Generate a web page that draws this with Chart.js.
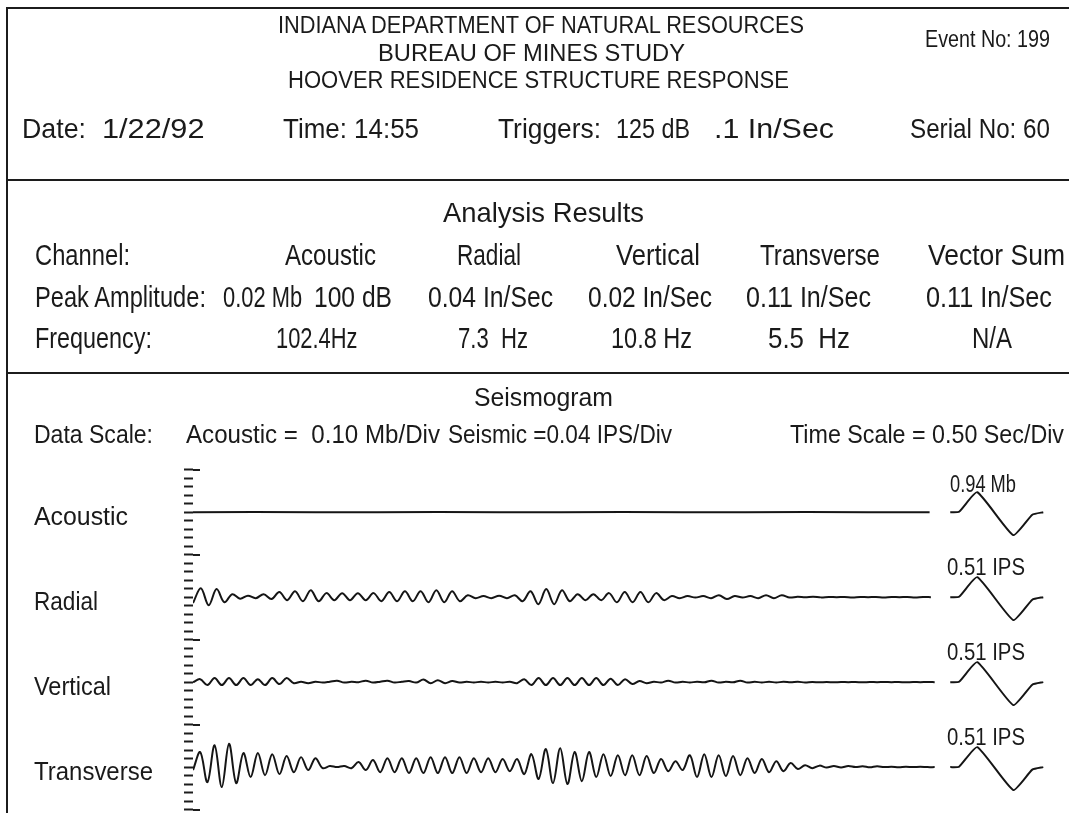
<!DOCTYPE html>
<html>
<head>
<meta charset="utf-8">
<script src="https://cdn.jsdelivr.net/npm/chart.js@4.4.0/dist/chart.umd.min.js"></script>
<style>
  html, body { margin: 0; padding: 0; background: #fff; }
  #page { position: relative; width: 1069px; height: 813px; overflow: hidden; background: #fff; }
  #seis { position: absolute; left: 0; top: 0; }
  .t { position: absolute; white-space: pre; font-family: "Liberation Sans", Arial, sans-serif;
       color: #1a1a1a; line-height: 1; transform-origin: 0 0; }
  .rule { position: absolute; background: #1c1c1c; }
</style>
</head>
<body>
<div id="page">
  <canvas id="seis" width="1069" height="813"></canvas>
  <div class="rule" style="left:6px;top:7px;width:1063px;height:2px"></div>
  <div class="rule" style="left:6px;top:7px;width:2px;height:806px"></div>
  <div class="rule" style="left:6px;top:179px;width:1063px;height:2px"></div>
  <div class="rule" style="left:6px;top:372px;width:1063px;height:2px"></div>
</div>
<script>
// Report header
const reportTitle = ['INDIANA DEPARTMENT OF NATURAL RESOURCES', 'BUREAU OF MINES STUDY', 'HOOVER RESIDENCE STRUCTURE RESPONSE'];
const eventNo = '199';
const eventDate = '1/22/92';
const eventTime = '14:55';
const triggers = ['125 dB', '.1 In/Sec'];
const serialNo = '60';

// Analysis results
const channels = ['Acoustic', 'Radial', 'Vertical', 'Transverse', 'Vector Sum'];
const peakAmplitudes = ['0.02 Mb', '0.04 In/Sec', '0.02 In/Sec', '0.11 In/Sec', '0.11 In/Sec'];
const acousticPeakDb = '100 dB';
const frequencies = ['102.4Hz', '7.3  Hz', '10.8 Hz', '5.5  Hz', 'N/A'];

// Seismogram scales
const acousticScale = 0.10;  // Mb per division
const seismicScale = 0.04;   // IPS per division
const timeScale = 0.50;      // sec per division
const calibrationLabels = ['0.94 Mb', '0.51 IPS', '0.51 IPS', '0.51 IPS'];

// Traces (Mb for acoustic, In/Sec for the rest)
const acousticStep = 0.52;
const acousticTrace = [0, 0.001, -0.001, 0, 0.001, 0, -0.001, 0.001, 0, 0, 0.001, 0, 0];

const radialStep = 0.0665;
const radialTrace = [
  -0.028, 0.042, -0.038, 0.038, -0.024, 0.014, -0.007, 0.007, -0.005, 0.014,
  -0.009, 0.024, -0.014, 0.028, -0.019, 0.033, -0.019, 0.019, -0.014, 0.019,
  -0.014, 0.019, -0.014, 0.019, -0.019, 0.024, -0.019, 0.028, -0.019, 0.028,
  -0.024, 0.033, -0.024, 0.028, -0.019, 0.009, -0.005, 0.005, -0.005, 0.007,
  -0.005, 0.009, -0.019, 0.028, -0.033, 0.038, -0.033, 0.033, -0.019, 0.014,
  -0.014, 0.014, -0.014, 0.019, -0.024, 0.024, -0.024, 0.024, -0.024, 0.019,
  -0.014, 0.005, -0.005, 0.005, -0.002, 0.005, -0.005, 0.009, -0.009, 0.005,
  -0.002, 0.005, -0.005, 0.009, -0.005, 0.009, -0.002, 0.002, 0, 0.002,
  -0.001, 0.001, 0, 0.001, -0.001, 0.001, 0, 0.001, -0.001, 0.001,
  0, 0.001, -0.001, 0.001, 0
];

const verticalStep = 0.061;
const verticalTrace = [
  0, 0.014, -0.014, 0.019, -0.014, 0.019, -0.014, 0.019, -0.014, 0.014,
  -0.014, 0.019, -0.009, 0.019, -0.005, 0.002, -0.005, 0.002, -0.002, 0.002,
  0.007, -0.002, 0.002, 0, 0.007, -0.002, 0.002, 0.007, -0.002, 0.002,
  0.005, -0.002, 0.012, -0.005, 0.009, -0.005, 0.005, -0.002, 0.002, -0.002,
  0.002, -0.002, 0.002, -0.002, 0.002, -0.005, 0.014, -0.014, 0.019, -0.014,
  0.019, -0.014, 0.019, -0.014, 0.019, -0.014, 0.019, -0.014, 0.016, -0.014,
  0.014, -0.009, 0.005, -0.005, 0.002, -0.002, 0.007, -0.002, 0.002, -0.002,
  0.002, -0.001, 0.007, -0.002, 0.002, -0.001, 0.007, -0.002, 0.002, -0.002,
  0.002, -0.002, 0.002, -0.001, 0.002, -0.002, 0.001, -0.001, 0.001, -0.001,
  0.001, 0, 0.001, -0.001, 0.001, 0, 0.001, 0, 0.001, -0.001,
  0.001, 0, 0.001, 0
];

const transverseStep = 0.061;
const transverseTrace = [
  -0.014, 0.071, -0.071, 0.103, -0.094, 0.110, -0.075, 0.066, -0.047, 0.066,
  -0.038, 0.061, -0.033, 0.052, -0.024, 0.047, -0.014, 0.042, -0.005, 0.005,
  0, 0.005, -0.005, 0.024, -0.014, 0.033, -0.024, 0.042, -0.024, 0.042,
  -0.028, 0.042, -0.028, 0.047, -0.028, 0.047, -0.028, 0.047, -0.028, 0.042,
  -0.024, 0.042, -0.024, 0.038, -0.019, 0.038, -0.033, 0.061, -0.056, 0.085,
  -0.075, 0.089, -0.080, 0.071, -0.066, 0.071, -0.047, 0.061, -0.042, 0.056,
  -0.038, 0.056, -0.038, 0.052, -0.028, 0.038, -0.019, 0.028, -0.014, 0.056,
  -0.047, 0.061, -0.047, 0.056, -0.042, 0.052, -0.038, 0.042, -0.028, 0.038,
  -0.024, 0.028, -0.019, 0.019, -0.009, 0.009, -0.005, 0.007, -0.002, 0.005,
  -0.002, 0.005, 0, 0.004, -0.001, 0.004, 0, 0.002, -0.001, 0.002,
  0, 0.002, 0, 0
];

// Calibration pulse drawn at the end of every trace (seconds, divisions)
const pulseTimes = [6.415, 6.49, 6.644, 6.949, 7.11, 7.203];
const pulseShape = [0, 0.05, 2.35, -2.7, -0.3, 0];

// Layout
const page = document.getElementById('page');
const traceBase = { Acoustic: 30, Radial: 20, Vertical: 10, Transverse: 0 };

// squeeze text toward the slot [left, right] but keep glyphs from getting too distorted
function place(text, left, right, cy, cap, align) {
  const el = document.createElement('div');
  el.className = 't';
  const fs = cap / 0.729;
  el.style.fontSize = fs + 'px';
  el.textContent = text;
  page.appendChild(el);
  const w = el.getBoundingClientRect().width;
  const k = Math.min(1.12, Math.max(0.76, (right - left) / w));
  const drawn = w * k;
  let x = left;
  if (align === 'c') x = (left + right - drawn) / 2;
  if (align === 'r') x = right - drawn;
  el.style.left = x + 'px';
  el.style.top = (cy - 0.482 * fs) + 'px';
  el.style.transform = 'scaleX(' + k + ')';
}

// Header block
place(reportTitle[0], 278, 804, 25, 17, 'c');
place(reportTitle[1], 378, 685, 53, 17, 'c');
place(reportTitle[2], 288, 789, 80, 17, 'c');
place('Event No: ' + eventNo, 925, 1050, 39, 18, 'r');
place('Date:', 22, 86, 128, 20);
place(eventDate, 102, 221, 128, 20);
place('Time: ' + eventTime, 283, 419, 128, 20);
place('Triggers:', 498, 601, 128, 20);
place(triggers[0], 616, 690, 128, 20);
place(triggers[1], 714, 834, 128, 20);
place('Serial No: ' + serialNo, 910, 1050, 128, 20, 'r');

// Analysis results block
place('Analysis Results', 443, 644, 212, 20, 'c');
const colX = [[285, 376], [457, 521], [616, 700], [760, 880], [928, 1065]];
place('Channel:', 35, 130, 255, 21);
channels.forEach((c, i) => place(c, colX[i][0], colX[i][1], 255, 21, 'c'));

const peakX = [[226, 300], [428, 553], [588, 712], [746, 871], [926, 1052]];
place('Peak Amplitude:', 35, 206, 297, 21);
peakAmplitudes.forEach((p, i) => place(p, peakX[i][0], peakX[i][1], 297, 21, 'c'));
place(acousticPeakDb, 314, 392, 297, 21, 'c');

const freqX = [[279, 354], [458, 528], [611, 692], [768, 850], [972, 1012]];
place('Frequency:', 35, 152, 338, 21);
frequencies.forEach((f, i) => place(f, freqX[i][0], freqX[i][1], 338, 21, 'c'));

// Seismogram block
place('Seismogram', 474, 613, 397, 19, 'c');
place('Data Scale:', 34, 153, 434, 19);
place('Acoustic =  ' + acousticScale.toFixed(2) + ' Mb/Div', 186, 440, 434, 19);
place('Seismic =' + seismicScale.toFixed(2) + ' IPS/Div', 448, 672, 434, 19);
place('Time Scale = ' + timeScale.toFixed(2) + ' Sec/Div', 790, 1064, 434, 19, 'r');

const labelX = { Acoustic: 128, Radial: 98, Vertical: 111, Transverse: 153 };
const labelY = { Acoustic: 516, Radial: 601, Vertical: 686, Transverse: 771 };
channels.slice(0, 4).forEach((c) => place(c, 34, labelX[c], labelY[c], 19));

const calX = [[950, 1016], [947, 1025], [947, 1025], [947, 1025]];
const calY = [484, 567, 652, 737];
calibrationLabels.forEach((c, i) => place(c, calX[i][0], calX[i][1], calY[i], 17));

// Seismogram traces
function toPoints(trace, step, unit, base) {
  return trace.map((v, i) => ({ x: i * step, y: base + v / unit }));
}
function pulsePoints(base) {
  return pulseTimes.map((t, i) => ({ x: t, y: base + pulseShape[i] }));
}

const lineStyle = { borderColor: '#151515', borderWidth: 2, pointRadius: 0, fill: false };
const datasets = [
  Object.assign({ data: toPoints(acousticTrace, acousticStep, acousticScale, traceBase.Acoustic), tension: 0 }, lineStyle),
  Object.assign({ data: toPoints(radialTrace, radialStep, seismicScale, traceBase.Radial), tension: 0.35 }, lineStyle),
  Object.assign({ data: toPoints(verticalTrace, verticalStep, seismicScale, traceBase.Vertical), tension: 0.35 }, lineStyle),
  Object.assign({ data: toPoints(transverseTrace, transverseStep, seismicScale, traceBase.Transverse), tension: 0.35 }, lineStyle)
];
Object.values(traceBase).forEach((base) => {
  datasets.push(Object.assign({ data: pulsePoints(base), tension: 0.15 }, lineStyle));
});

// longer marks at band edges on the division scale
const majorTicks = {
  id: 'majorTicks',
  afterDraw(chart) {
    const y = chart.scales.y;
    const c = chart.ctx;
    c.save();
    c.strokeStyle = '#1c1c1c';
    c.lineWidth = 2;
    y.ticks.forEach((t) => {
      if ((t.value + 5) % 10 !== 0) return;
      const py = Math.round(y.getPixelForValue(t.value));
      c.beginPath();
      c.moveTo(chart.chartArea.left, py);
      c.lineTo(chart.chartArea.left + 7, py);
      c.stroke();
    });
    c.restore();
  }
};

new Chart(document.getElementById('seis'), {
  type: 'line',
  data: { datasets },
  options: {
    responsive: false,
    animation: false,
    events: [],
    layout: { padding: { left: 184, right: 19, top: 468, bottom: 0 } },
    plugins: { legend: { display: false }, tooltip: { enabled: false } },
    scales: {
      x: { type: 'linear', min: 0, max: 7.26, display: false },
      y: {
        type: 'linear',
        min: -5.4,
        max: 35.2,
        afterBuildTicks: (scale) => {
          const ticks = [];
          for (let v = -5; v <= 35; v++) ticks.push({ value: v });
          scale.ticks = ticks;
        },
        afterFit: (scale) => { scale.width = 9; },
        ticks: { display: false },
        border: { display: false },
        grid: { drawOnChartArea: false, drawTicks: true, tickLength: 9, tickWidth: 2, tickColor: '#1c1c1c' }
      }
    }
  },
  plugins: [majorTicks]
});
</script>
</body>
</html>
